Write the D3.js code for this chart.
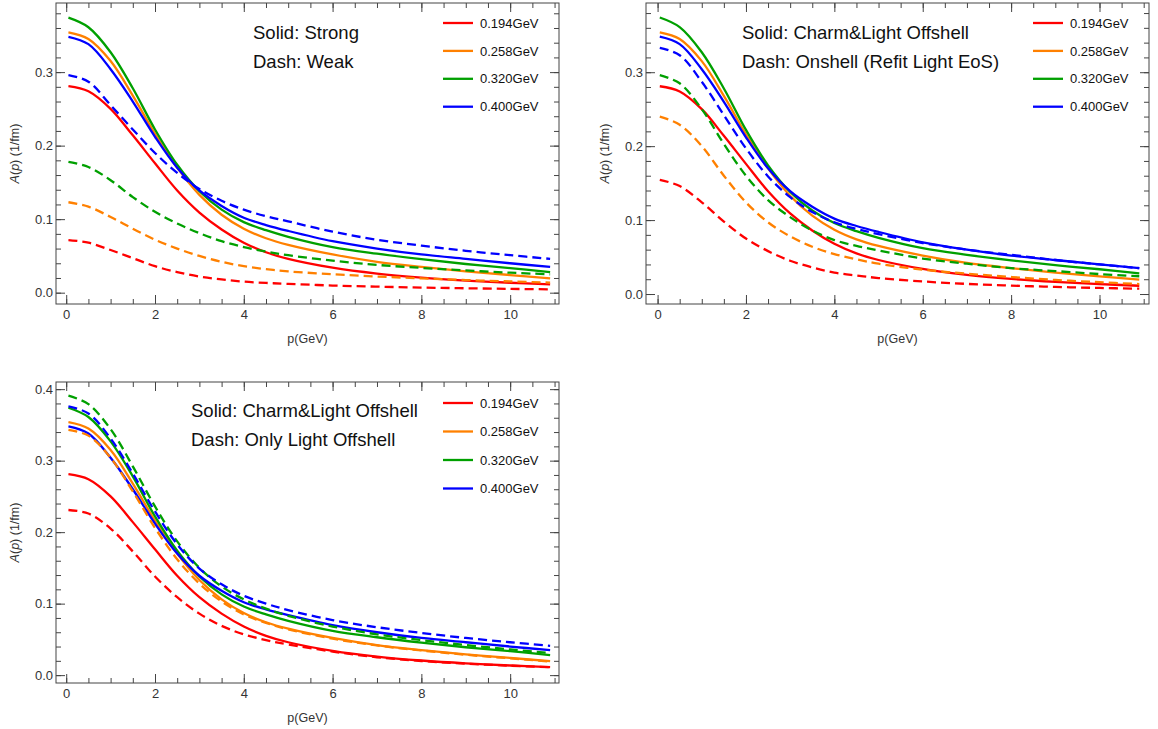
<!DOCTYPE html>
<html>
<head>
<meta charset="utf-8">
<script src="https://cdn.jsdelivr.net/npm/d3@7"></script>
<style>
  body { margin: 0; background: #fff; }
  svg { display: block; font-family: "Liberation Sans", Arial, sans-serif; }
  .frame { fill: none; stroke: #444; stroke-width: 1; }
  .tick line { stroke: #444; }
  .tick text { fill: #333; font-size: 13px; }
  .domain { display: none; }
</style>
</head>
<body>
<svg id="fig" width="1158" height="729"></svg>
<script>
// momentum grid (GeV)
var pGrid = [0.05, 0.5, 1, 1.5, 2, 2.5, 3, 3.5, 4, 4.5, 5, 6, 7, 8, 9, 10, 10.9];

var temps = ["0.194GeV", "0.258GeV", "0.320GeV", "0.400GeV"];
var colors = ["#ff0000", "#ff8000", "#00a000", "#0000ff"];

// Solid: strong / charm&light offshell (same curves in every panel)
var solid194 = [0.281, 0.274, 0.250, 0.214, 0.176, 0.139, 0.109, 0.086, 0.068, 0.055, 0.046, 0.034, 0.026, 0.0205, 0.0165, 0.0135, 0.0112];
var solid258 = [0.354, 0.345, 0.315, 0.268, 0.216, 0.170, 0.133, 0.106, 0.087, 0.074, 0.065, 0.052, 0.042, 0.035, 0.029, 0.024, 0.0195];
var solid320 = [0.374, 0.361, 0.327, 0.278, 0.222, 0.174, 0.138, 0.113, 0.096, 0.085, 0.076, 0.062, 0.053, 0.0455, 0.039, 0.0335, 0.028];
var solid400 = [0.348, 0.338, 0.304, 0.260, 0.212, 0.170, 0.139, 0.118, 0.102, 0.092, 0.084, 0.070, 0.060, 0.052, 0.046, 0.040, 0.035];

// Dash, panel 1: weak
var weak194 = [0.0716, 0.068, 0.058, 0.047, 0.036, 0.028, 0.022, 0.018, 0.015, 0.0133, 0.012, 0.0097, 0.0082, 0.007, 0.006, 0.0052, 0.0045];
var weak258 = [0.123, 0.117, 0.103, 0.087, 0.072, 0.060, 0.050, 0.042, 0.036, 0.032, 0.029, 0.025, 0.022, 0.0195, 0.0172, 0.0153, 0.0137];
var weak320 = [0.178, 0.171, 0.153, 0.130, 0.110, 0.094, 0.081, 0.070, 0.062, 0.056, 0.051, 0.0435, 0.0378, 0.0337, 0.0302, 0.0272, 0.025];
var weak400 = [0.296, 0.287, 0.255, 0.222, 0.190, 0.163, 0.141, 0.125, 0.113, 0.104, 0.097, 0.083, 0.072, 0.064, 0.057, 0.051, 0.046];

// Dash, panel 2: onshell (refit light EoS)
var onshell194 = [0.1545, 0.146, 0.124, 0.098, 0.075, 0.058, 0.045, 0.036, 0.029, 0.025, 0.0216, 0.017, 0.0137, 0.0114, 0.0096, 0.0082, 0.0072];
var onshell258 = [0.240, 0.229, 0.200, 0.160, 0.124, 0.097, 0.078, 0.064, 0.054, 0.047, 0.041, 0.033, 0.0275, 0.023, 0.019, 0.016, 0.0135];
var onshell320 = [0.296, 0.285, 0.250, 0.203, 0.160, 0.127, 0.104, 0.086, 0.073, 0.065, 0.059, 0.048, 0.041, 0.035, 0.031, 0.027, 0.024];
var onshell400 = [0.333, 0.323, 0.287, 0.242, 0.197, 0.159, 0.131, 0.111, 0.097, 0.088, 0.081, 0.069, 0.060, 0.053, 0.046, 0.040, 0.035];

// Dash, panel 3: only light offshell
var light194 = [0.231, 0.226, 0.205, 0.173, 0.138, 0.109, 0.086, 0.069, 0.057, 0.049, 0.043, 0.033, 0.025, 0.0198, 0.016, 0.0132, 0.011];
var light258 = [0.343, 0.335, 0.304, 0.257, 0.206, 0.162, 0.128, 0.103, 0.085, 0.073, 0.064, 0.051, 0.0415, 0.0345, 0.0285, 0.0235, 0.019];
var light320 = [0.391, 0.379, 0.344, 0.292, 0.236, 0.187, 0.150, 0.124, 0.106, 0.093, 0.083, 0.068, 0.057, 0.049, 0.042, 0.036, 0.031];
var light400 = [0.376, 0.366, 0.331, 0.282, 0.229, 0.183, 0.149, 0.127, 0.111, 0.100, 0.091, 0.077, 0.067, 0.059, 0.052, 0.046, 0.041];

var xTicks = [0, 2, 4, 6, 8, 10];
var yTicksA = [0, 0.1, 0.2, 0.3];
var yTicksB = [0, 0.1, 0.2, 0.3, 0.4];

var notes1 = ["Solid: Strong", "Dash: Weak"];
var notes2 = ["Solid: Charm&Light Offshell", "Dash: Onshell (Refit Light EoS)"];
var notes3 = ["Solid: Charm&Light Offshell", "Dash: Only Light Offshell"];

var solids = [solid194, solid258, solid320, solid400];

var panels = [
  {left: 56, right: 559, top: 3, bottom: 304, xd: [-0.23, 11.1], yd: [-0.0154, 0.394],
   yTicks: yTicksA, dashes: [weak194, weak258, weak320, weak400], notes: notes1,
   noteX: 253, noteY: 39, legY: 23, legStep: 27.9},
  {left: 646, right: 1149, top: 3, bottom: 304, xd: [-0.262, 11.12], yd: [-0.0135, 0.3936],
   yTicks: yTicksA, dashes: [onshell194, onshell258, onshell320, onshell400], notes: notes2,
   noteX: 742, noteY: 39, legY: 23, legStep: 27.9},
  {left: 56, right: 559, top: 382, bottom: 683, xd: [-0.23, 11.1], yd: [-0.011, 0.41],
   yTicks: yTicksB, dashes: [light194, light258, light320, light400], notes: notes3,
   noteX: 191, noteY: 417, legY: 403, legStep: 28.5}
];

var svg = d3.select("#fig");

panels.forEach(function(P) {
  var x = d3.scaleLinear().domain(P.xd).range([P.left, P.right]);
  var y = d3.scaleLinear().domain(P.yd).range([P.bottom, P.top]);
  var g = svg.append("g");

  var xMinor = d3.range(0, 11.01, 0.5);
  var yMinor = d3.range(0, P.yd[1], 0.02);

  // inward ticks on all four sides
  function addAxis(gen, tr, ticks, size, fmt, pad) {
    g.append("g").attr("transform", tr)
      .call(gen.tickValues(ticks).tickSize(-size).tickSizeOuter(0).tickPadding(pad || 4).tickFormat(fmt));
  }
  var noLab = function() { return ""; };
  addAxis(d3.axisBottom(x), "translate(0," + P.bottom + ")", xMinor, 5, noLab);
  addAxis(d3.axisBottom(x), "translate(0," + P.bottom + ")", xTicks, 9, d3.format("d"), 6);
  addAxis(d3.axisTop(x), "translate(0," + P.top + ")", xMinor, 5, noLab);
  addAxis(d3.axisTop(x), "translate(0," + P.top + ")", xTicks, 9, noLab);
  addAxis(d3.axisLeft(y), "translate(" + P.left + ",0)", yMinor, 5, noLab);
  addAxis(d3.axisLeft(y), "translate(" + P.left + ",0)", P.yTicks, 9, d3.format(".1f"), 3);
  addAxis(d3.axisRight(y), "translate(" + P.right + ",0)", yMinor, 5, noLab);
  addAxis(d3.axisRight(y), "translate(" + P.right + ",0)", P.yTicks, 9, noLab);

  g.append("rect").attr("class", "frame")
    .attr("x", P.left).attr("y", P.top)
    .attr("width", P.right - P.left).attr("height", P.bottom - P.top);

  var line = d3.line()
    .x(function(d) { return x(d[0]); })
    .y(function(d) { return y(d[1]); })
    .curve(d3.curveCatmullRom.alpha(0.5));

  solids.forEach(function(vals, i) {
    g.append("path").datum(d3.zip(pGrid, vals))
      .attr("d", line).attr("fill", "none")
      .attr("stroke", colors[i]).attr("stroke-width", 2.3);
  });
  P.dashes.forEach(function(vals, i) {
    g.append("path").datum(d3.zip(pGrid, vals))
      .attr("d", line).attr("fill", "none")
      .attr("stroke", colors[i]).attr("stroke-width", 2.3)
      .attr("stroke-dasharray", "9,5");
  });

  // axis labels
  var cx = (P.left + P.right) / 2, cy = (P.top + P.bottom) / 2;
  g.append("text").attr("x", cx).attr("y", P.bottom + 39)
    .attr("text-anchor", "middle").attr("font-size", 12.5).attr("fill", "#333")
    .text("p(GeV)");
  var yl = g.append("text")
    .attr("transform", "translate(" + (P.left - 37) + "," + cy + ") rotate(-90)")
    .attr("text-anchor", "middle").attr("font-size", 12.5).attr("fill", "#333");
  yl.append("tspan").attr("font-style", "italic").text("A");
  yl.append("tspan").text("(");
  yl.append("tspan").attr("font-style", "italic").text("p");
  yl.append("tspan").text(") (1/fm)");

  // annotation
  P.notes.forEach(function(t, k) {
    g.append("text").attr("x", P.noteX).attr("y", P.noteY + k * 29)
      .attr("font-size", 18.5).attr("fill", "#111").text(t);
  });

  // legend
  var lx = P.right - 116;
  temps.forEach(function(t, i) {
    var ly = P.legY + i * P.legStep;
    g.append("line").attr("x1", lx).attr("x2", lx + 30).attr("y1", ly).attr("y2", ly)
      .attr("stroke", colors[i]).attr("stroke-width", 2.3);
    g.append("text").attr("x", lx + 37).attr("y", ly + 4.6)
      .attr("font-size", 13).attr("fill", "#111").text(t);
  });
});
</script>
</body>
</html>
